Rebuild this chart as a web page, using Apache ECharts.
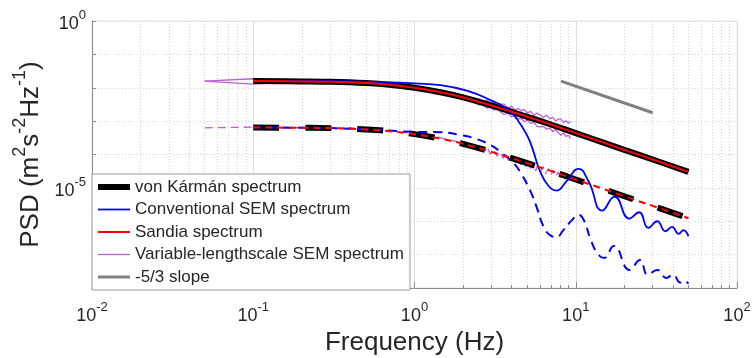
<!DOCTYPE html>
<html>
<head>
<meta charset="utf-8">
<script src="https://cdn.jsdelivr.net/npm/echarts@6/dist/echarts.min.js"></script>
<style>
html,body{margin:0;padding:0;background:#fff;}
#chart{width:752px;height:358px;}
</style>
</head>
<body>
<div id="chart"></div>
<script>
// ---------- data ----------
const freqVK = [0.1,0.2,0.3,0.5,0.7,1,1.5,2,3,4,5,7,10,15,20,30,50];
const vonKarmanUpper = [1.58e-2,1.55e-2,1.51e-2,1.38e-2,1.23e-2,1.00e-2,7.08e-3,5.13e-3,2.95e-3,1.91e-3,1.35e-3,7.94e-4,4.37e-4,2.24e-4,1.38e-4,7.08e-5,3.02e-5];
const vonKarmanLower = [6.46e-4,6.31e-4,6.17e-4,5.62e-4,5.01e-4,4.07e-4,2.88e-4,2.09e-4,1.20e-4,7.76e-5,5.50e-5,3.24e-5,1.78e-5,9.12e-6,5.62e-6,2.88e-6,1.23e-6];
const sandiaUpper = [1.58e-2,1.55e-2,1.51e-2,1.38e-2,1.23e-2,1.00e-2,7.08e-3,5.13e-3,2.95e-3,1.91e-3,1.35e-3,7.94e-4,4.37e-4,2.24e-4,1.38e-4,7.08e-5,3.02e-5];
const sandiaLower = [6.46e-4,6.31e-4,6.17e-4,5.62e-4,5.01e-4,4.07e-4,2.88e-4,2.09e-4,1.20e-4,7.76e-5,5.50e-5,3.24e-5,1.78e-5,9.12e-6,5.62e-6,2.88e-6,1.23e-6];

const freqConvUpper = [0.1,0.2,0.4,0.6,0.8,1,1.45,2.25,2.95,3.6,4.1,4.65,5.1,5.5,6.0,6.8,7.6,8.7,10.4,12.0,14.6,17.4,21.5,24.7,28.2,32,36,39.5,43.5,46.5,50];
const convUpper = [1.58e-2,1.58e-2,1.55e-2,1.48e-2,1.41e-2,1.35e-2,1.20e-2,7.41e-3,4.27e-3,2.69e-3,1.55e-3,6.76e-4,3.02e-4,1.12e-4,3.16e-5,1.12e-5,8.32e-6,1.51e-5,3.72e-5,1.58e-5,2.09e-6,5.50e-6,1.20e-6,1.86e-6,6.31e-7,1.00e-6,5.01e-7,6.76e-7,4.17e-7,5.37e-7,3.55e-7];

const freqConvLower = [0.1,0.3,0.6,1.0,1.45,1.9,2.3,2.95,3.4,4.1,4.6,5.0,5.4,5.8,6.3,7.0,7.6,8.4,9.5,10.4,11.2,12.4,13.7,15.0,17.2,21.6,25,28,32,36.5,40,44.5,46.5,50];
const convLower = [6.46e-4,6.17e-4,5.37e-4,4.79e-4,4.68e-4,3.89e-4,3.16e-4,1.95e-4,1.20e-4,5.62e-5,2.63e-5,1.26e-5,5.62e-6,2.19e-6,7.08e-7,3.72e-7,3.39e-7,5.50e-7,1.10e-6,1.55e-6,1.10e-6,2.75e-7,1.05e-7,7.94e-8,1.82e-7,3.47e-8,6.92e-8,2.51e-8,3.47e-8,2.00e-8,2.51e-8,1.45e-8,1.66e-8,1.35e-8];

// variable-lengthscale SEM, upper component: two noisy traces (above / below the model line)
const freqVarUpperA = [0.05,0.1,0.15,0.2,0.3,0.4,0.5,0.6,0.7,0.8,0.9,1.0,1.2,1.4,1.6,1.8,2.0,2.2,2.4,
  2.5,2.65,2.8,2.95,3.1,3.25,3.4,3.6,3.8,4.0,4.2,4.4,4.6,4.8,5.0,5.25,5.5,5.75,6.0,6.3,6.6,6.9,7.2,7.5,7.8,8.1,8.4,8.7,9.0,9.3];
const varUpperA = [1.58e-2,1.86e-2,1.55e-2,1.62e-2,1.51e-2,1.55e-2,1.45e-2,1.45e-2,1.29e-2,1.29e-2,1.15e-2,1.12e-2,9.33e-3,8.32e-3,7.24e-3,6.61e-3,5.50e-3,5.01e-3,4.27e-3,
  4.68e-3,3.72e-3,4.27e-3,3.47e-3,3.80e-3,2.88e-3,3.24e-3,3.24e-3,2.45e-3,2.75e-3,2.14e-3,2.40e-3,2.04e-3,2.24e-3,1.74e-3,1.95e-3,1.48e-3,1.74e-3,1.55e-3,1.29e-3,
  1.51e-3,1.17e-3,1.29e-3,1.02e-3,1.15e-3,1.15e-3,9.12e-4,1.02e-3,8.71e-4,9.55e-4];
const freqVarUpperB = [0.05,0.1,0.15,0.2,0.3,0.5,0.7,1.0,1.3,1.6,2.0,2.3,
  2.5,2.65,2.8,2.95,3.1,3.25,3.4,3.6,3.8,4.0,4.2,4.4,4.6,4.8,5.0,5.25,5.5,5.75,6.0,6.3,6.6,6.9,7.2,7.5,7.8,8.1,8.4,8.7,9.0,9.3];
const varUpperB = [1.58e-2,1.29e-2,1.45e-2,1.48e-2,1.41e-2,1.29e-2,1.15e-2,9.33e-3,7.59e-3,6.03e-3,4.68e-3,3.80e-3,
  3.09e-3,3.24e-3,2.45e-3,2.63e-3,2.14e-3,2.40e-3,1.91e-3,1.58e-3,1.74e-3,1.35e-3,1.51e-3,1.17e-3,1.20e-3,9.55e-4,1.07e-3,8.51e-4,9.12e-4,6.92e-4,6.76e-4,6.92e-4,
  5.75e-4,6.17e-4,4.90e-4,5.62e-4,4.47e-4,3.80e-4,4.47e-4,3.47e-4,3.72e-4,3.02e-4];

// variable-lengthscale SEM, lower component (dashed)
const freqVarLower = [0.05,0.1,0.15,0.2,0.3,0.4,0.5,0.7,0.9,1.1,1.4,1.7,2.0,2.4,2.7,
  2.85,2.95,3.1,3.25,3.4,3.55,3.7,3.85,4.0,4.2,4.35,4.55,4.7,4.9,5.05,5.25,5.45,5.65,5.85,6.05,
  6.3,6.5,6.75,7.0,7.25,7.5,7.8,8.05,8.3,8.6,8.85,9.1,9.3];
const varLower = [6.31e-4,6.61e-4,6.17e-4,6.46e-4,5.89e-4,6.31e-4,5.62e-4,5.25e-4,4.47e-4,3.98e-4,3.31e-4,2.63e-4,2.19e-4,1.66e-4,1.45e-4,
  1.51e-4,1.02e-4,1.38e-4,9.12e-5,1.23e-4,7.76e-5,1.02e-4,6.61e-5,9.33e-5,5.89e-5,
  7.76e-5,5.01e-5,7.08e-5,4.37e-5,6.17e-5,3.89e-5,5.37e-5,3.31e-5,4.68e-5,3.09e-5,
  4.27e-5,2.69e-5,3.72e-5,2.45e-5,3.39e-5,2.19e-5,2.95e-5,2.00e-5,2.75e-5,1.82e-5,
  2.40e-5,1.70e-5,2.09e-5];

const slopeFreq = [8.1, 30];
const slopeValue = [1.58e-2, 1.78e-3];

const legendNames = ['von K\u00e1rm\u00e1n spectrum','Conventional SEM spectrum','Sandia spectrum','Variable-lengthscale SEM spectrum','-5/3 slope'];
const yLabelExponents = [0, -5];

// ---------- helpers ----------
const pairs = (xs, ys) => xs.map((x, i) => [x, ys[i]]);
const FONT = '"Liberation Sans", Arial, Helvetica, sans-serif';
const TXT = '#262626';
const AX = '#8c8c8c';
const MAG = '#bf5fd4';
const rich = {
  b: {fontSize: 18, fontFamily: FONT, color: TXT, lineHeight: 24, verticalAlign: 'bottom'},
  s: {fontSize: 13, fontFamily: FONT, color: TXT, verticalAlign: 'top'}
};
const expOf = v => Math.round(Math.log10(v));
const xFmt = v => '{b|10}{s|' + expOf(v) + '}';
const yFmt = v => yLabelExponents.indexOf(expOf(v)) >= 0 ? '{b|10}{s|' + expOf(v) + '}' : '';

function line(name, xs, ys, color, width, type, extra) {
  return Object.assign({
    type: 'line', name: name, data: pairs(xs, ys),
    symbol: 'none', showSymbol: false, silent: true, animation: false,
    lineStyle: {color: color, width: width, type: type || 'solid', cap: 'butt', join: 'round'},
    itemStyle: {color: color}
  }, extra || {});
}

const series = [
  line(legendNames[3], freqVarUpperA, varUpperA, MAG, 1.3),
  line(legendNames[3], freqVarUpperB, varUpperB, MAG, 1.3),
  line(legendNames[3], freqVarLower, varLower, MAG, 1.3, [8, 5]),
  line(legendNames[0], freqVK, vonKarmanUpper, '#000000', 6, 'solid', {smooth: 0.4}),
  line(legendNames[0], freqVK, vonKarmanLower, '#000000', 6, [26, 26], {smooth: 0.4}),
  line(legendNames[1], freqConvUpper, convUpper, '#0000ff', 1.8, 'solid', {smooth: 0.5}),
  line(legendNames[1], freqConvLower, convLower, '#0000ff', 2, [9, 6], {smooth: 0.5}),
  line(legendNames[2], freqVK, sandiaUpper, '#ff0000', 2, 'solid', {smooth: 0.4}),
  line(legendNames[2], freqVK, sandiaLower, '#ff0000', 2, [7, 5], {smooth: 0.4}),
  line(legendNames[4], slopeFreq, slopeValue, '#808080', 3)
];

const chart = echarts.init(document.getElementById('chart'), null, {renderer: 'canvas'});
chart.setOption({
  animation: false,
  backgroundColor: '#ffffff',
  grid: {left: 92, right: 15, top: 21, bottom: 70, containLabel: false, outerBoundsMode: 'none',
         show: true, borderColor: '#e4e4e4', borderWidth: 1, backgroundColor: 'transparent'},
  xAxis: {
    type: 'log', logBase: 10, min: 0.01, max: 100,
    name: 'Frequency (Hz)', nameLocation: 'middle', nameGap: 42,
    nameTextStyle: {fontSize: 26, fontFamily: FONT, color: TXT},
    axisLine: {show: true, lineStyle: {color: AX, width: 1}},
    axisTick: {show: true, inside: true, length: 6, lineStyle: {color: AX}},
    minorTick: {show: true, splitNumber: 9, length: 3, lineStyle: {color: AX}},
    axisLabel: {margin: 13, formatter: xFmt, rich: rich, showMinLabel: true, showMaxLabel: true},
    splitLine: {show: true, lineStyle: {color: '#e0e0e0', width: 1}},
    minorSplitLine: {show: true, lineStyle: {color: '#d4d4d4', width: 1, type: [1, 2]}}
  },
  yAxis: {
    type: 'log', logBase: 10, min: 1e-8, max: 1,
    name: '{b|PSD (m}{s|2}{b|s}{s|-2}{b|Hz}{s|-1}{b|)}', nameLocation: 'middle', nameGap: 42, nameRotate: 90,
    nameTextStyle: {
      rich: {
        b: {fontSize: 26, fontFamily: FONT, color: TXT, lineHeight: 32, verticalAlign: 'bottom'},
        s: {fontSize: 18, fontFamily: FONT, color: TXT, verticalAlign: 'top'}
      }
    },
    axisLine: {show: true, lineStyle: {color: AX, width: 1}},
    axisTick: {show: true, inside: true, length: 4, lineStyle: {color: AX}},
    axisLabel: {margin: 6, formatter: yFmt, rich: rich, showMinLabel: true, showMaxLabel: true},
    splitLine: {show: true, lineStyle: {color: '#d4d4d4', width: 1, type: [1, 2]}}
  },
  legend: {
    left: 92, top: 174, orient: 'vertical',
    data: legendNames,
    itemWidth: 32, itemHeight: 14, itemGap: 2.5,
    padding: [3, 6, 3, 3],
    backgroundColor: '#ffffff', borderColor: '#9a9a9a', borderWidth: 1, borderRadius: 0,
    textStyle: {fontSize: 17, fontFamily: FONT, color: TXT, lineHeight: 20},
    itemStyle: {opacity: 0},
    lineStyle: {width: 'inherit'},
    selectedMode: false
  },
  series: series
});
</script>
</body>
</html>
